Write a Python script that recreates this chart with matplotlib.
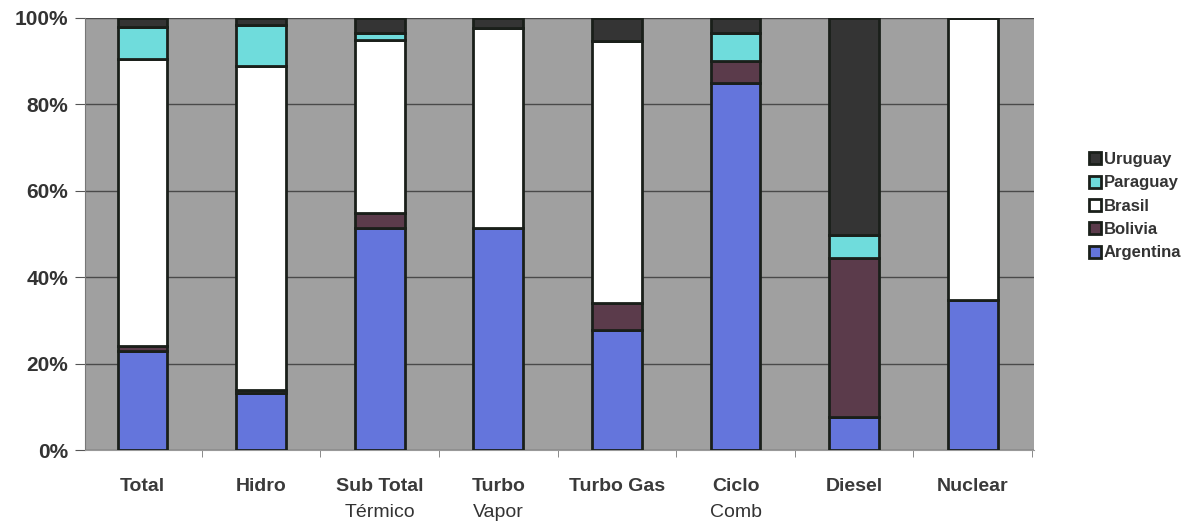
import numpy as np
import matplotlib.pyplot as plt

plt.rcParams['font.family'] = ['Liberation Sans', 'DejaVu Sans']

# categories (first line bold, second line regular as in the original)
categories = ["Total", "Hidro", "Sub Total", "Turbo", "Turbo Gas", "Ciclo", "Diesel", "Nuclear"]
second_line = ["", "", "Térmico", "Vapor", "", "Comb", "", ""]

# shares in % per country (bottom -> top)
argentina = [23.0, 13.2, 51.4, 51.4, 27.8, 85.0, 7.6, 34.7]
bolivia   = [1.0, 0.8, 3.5, 0.0, 6.2, 5.0, 36.8, 0.0]
brasil    = [66.5, 75.0, 40.0, 46.3, 60.7, 0.0, 0.0, 65.3]
paraguay  = [7.5, 9.4, 1.6, 0.0, 0.0, 6.5, 5.4, 0.0]
uruguay   = [2.0, 1.6, 3.5, 2.3, 5.3, 3.5, 50.2, 0.0]

series = [
    ("Argentina", argentina, "#6475dc"),
    ("Bolivia", bolivia, "#5b3b4b"),
    ("Brasil", brasil, "#ffffff"),
    ("Paraguay", paraguay, "#6fdcdc"),
    ("Uruguay", uruguay, "#343434"),
]

fig = plt.figure(figsize=(11.89, 5.29), dpi=100)
ax = fig.add_axes([0.0715, 0.149, 0.7985, 0.817])
ax.set_facecolor("#a0a0a0")

x = np.arange(len(categories))
bottom = np.zeros(len(categories))
handles = []
for name, vals, col in series:
    vals = np.array(vals)
    b = ax.bar(x, vals, width=0.42, bottom=bottom, color=col,
               edgecolor="#1a1f1a", linewidth=2, label=name, zorder=3)
    handles.append(b)
    bottom += vals

ax.set_xlim(-0.485, 7.52)
ax.set_ylim(0, 100)
ax.set_yticks(np.arange(0, 101, 20))
ax.set_yticklabels([f"{v}%" for v in range(0, 101, 20)],
                   fontsize=15, fontweight="bold", color="#333333")
ax.yaxis.grid(True, color="#4a4a4a", linewidth=1, zorder=1)
ax.set_axisbelow(True)

ax.set_xticks(x)
ax.set_xticklabels(categories, fontsize=14, fontweight="bold", color="#3a3a3a")
ax.tick_params(axis="x", length=0, pad=20)
ax.tick_params(axis="y", length=7, color="#555555", pad=5)
ax.set_xticks(np.arange(len(categories)) + 0.5, minor=True)
ax.tick_params(axis="x", which="minor", length=5, color="#777777")

# second line of the two-line labels, regular weight
for xi, txt in zip(x, second_line):
    if txt:
        ax.annotate(txt, xy=(xi, 0), xycoords=("data", "axes fraction"),
                    xytext=(0, -45), textcoords="offset points",
                    ha="center", va="center", fontsize=14, color="#333333")

for side in ["top", "right"]:
    ax.spines[side].set_visible(False)
ax.spines["left"].set_color("#777777")
ax.spines["bottom"].set_color("#999999")

leg = fig.legend(handles[::-1], [s[0] for s in series][::-1],
                 loc="center left", bbox_to_anchor=(0.903, 0.61),
                 frameon=False, fontsize=12, handlelength=0.75,
                 handleheight=0.75, handletextpad=0.15, labelspacing=0.5)
for t in leg.get_texts():
    t.set_fontweight("bold")
    t.set_color("#333333")

fig.savefig("out.png", dpi=100)
